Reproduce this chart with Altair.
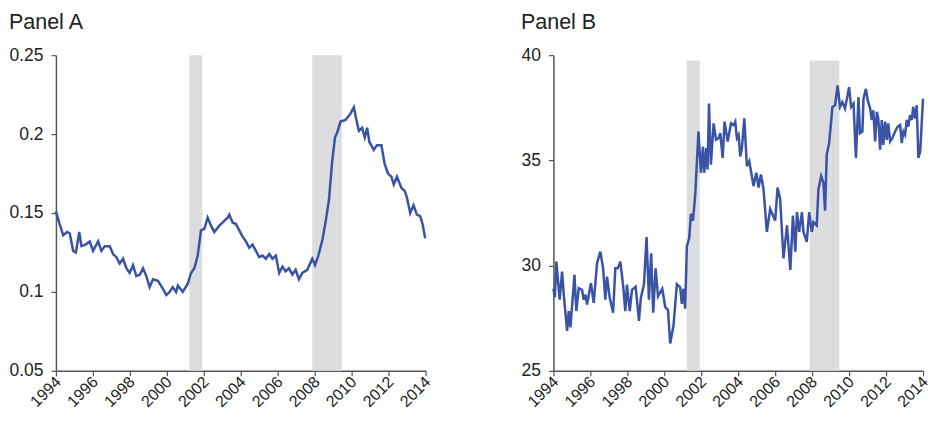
import altair as alt
import pandas as pd

# ---------------- data ----------------
years_a = [1994.0, 1994.2, 1994.39, 1994.61, 1994.75, 1994.93, 1995.08, 1995.26, 1995.38, 1995.6,
           1995.83, 1996.01, 1996.28, 1996.46, 1996.64, 1996.91, 1997.09, 1997.27, 1997.45, 1997.63,
           1997.81, 1997.99, 1998.17, 1998.35, 1998.55, 1998.71, 1998.89, 1999.07, 1999.25, 1999.52,
           1999.79, 1999.97, 2000.15, 2000.32, 2000.5, 2000.6, 2000.86, 2001.13, 2001.31, 2001.49,
           2001.67, 2001.85, 2002.03, 2002.21, 2002.39, 2002.57, 2002.84, 2003.11, 2003.29, 2003.38,
           2003.56, 2003.74, 2003.92, 2004.1, 2004.28, 2004.46, 2004.64, 2004.82, 2005.0, 2005.18,
           2005.36, 2005.54, 2005.72, 2005.9, 2006.08, 2006.26, 2006.43, 2006.61, 2006.79, 2006.97,
           2007.15, 2007.33, 2007.6, 2007.87, 2008.02, 2008.2, 2008.42, 2008.6, 2008.77, 2008.95,
           2009.1, 2009.22, 2009.4, 2009.67, 2009.81, 2009.94, 2010.12, 2010.24, 2010.39, 2010.57,
           2010.71, 2010.84, 2010.96, 2011.2, 2011.37, 2011.61, 2011.79, 2011.97, 2012.15, 2012.28,
           2012.45, 2012.69, 2012.87, 2012.99, 2013.17, 2013.35, 2013.53, 2013.71, 2013.84, 2013.98]
values_a = [0.151, 0.143, 0.136, 0.138, 0.137, 0.126, 0.125, 0.138, 0.129, 0.130,
            0.132, 0.126, 0.132, 0.126, 0.129, 0.129, 0.124, 0.122, 0.118, 0.121,
            0.115, 0.112, 0.117, 0.110, 0.111, 0.115, 0.110, 0.103, 0.108, 0.107,
            0.102, 0.098, 0.100, 0.103, 0.100, 0.104, 0.100, 0.105, 0.112, 0.115,
            0.123, 0.139, 0.140, 0.147, 0.142, 0.138, 0.142, 0.145, 0.147, 0.149,
            0.144, 0.143, 0.139, 0.135, 0.132, 0.128, 0.130, 0.126, 0.122, 0.123,
            0.121, 0.124, 0.121, 0.123, 0.112, 0.116, 0.113, 0.115, 0.111, 0.114,
            0.108, 0.112, 0.114, 0.121, 0.117, 0.123, 0.133, 0.145, 0.158, 0.183,
            0.198, 0.201, 0.208, 0.209, 0.211, 0.213, 0.217, 0.210, 0.202, 0.204,
            0.198, 0.204, 0.195, 0.190, 0.193, 0.193, 0.181, 0.175, 0.173, 0.168,
            0.173, 0.166, 0.164, 0.160, 0.150, 0.155, 0.149, 0.148, 0.143, 0.134]

years_b = [1994.0, 1994.08, 1994.16, 1994.34, 1994.47, 1994.56, 1994.74, 1994.83, 1994.92, 1995.14,
           1995.24, 1995.37, 1995.55, 1995.64, 1995.73, 1995.82, 1996.03, 1996.18, 1996.36, 1996.54,
           1996.69, 1996.81, 1996.9, 1997.05, 1997.23, 1997.35, 1997.48, 1997.62, 1997.77, 1997.89,
           1997.98, 1998.13, 1998.25, 1998.45, 1998.63, 1998.73, 1998.9, 1999.04, 1999.17, 1999.29,
           1999.4, 1999.53, 1999.66, 1999.89, 2000.05, 2000.2, 2000.32, 2000.5, 2000.68, 2000.86,
           2000.95, 2001.04, 2001.13, 2001.22, 2001.35, 2001.44, 2001.55, 2001.67, 2001.85, 2001.98,
           2002.09, 2002.16, 2002.27, 2002.34, 2002.42, 2002.52, 2002.67, 2002.8, 2002.94, 2003.03,
           2003.16, 2003.26, 2003.43, 2003.61, 2003.75, 2003.84, 2003.93, 2004.02, 2004.11, 2004.2,
           2004.33, 2004.47, 2004.6, 2004.69, 2004.83, 2004.98, 2005.1, 2005.23, 2005.37, 2005.55,
           2005.73, 2005.88, 2006.0, 2006.13, 2006.27, 2006.45, 2006.64, 2006.82, 2006.96, 2007.09,
           2007.18, 2007.3, 2007.45, 2007.53, 2007.71, 2007.84, 2007.98, 2008.07, 2008.25, 2008.34,
           2008.49, 2008.61, 2008.7, 2008.79, 2008.92, 2009.1, 2009.24, 2009.38, 2009.51, 2009.64,
           2009.78, 2010.0, 2010.11, 2010.24, 2010.37, 2010.51, 2010.59, 2010.72, 2010.78, 2010.91,
           2011.01, 2011.14, 2011.23, 2011.31, 2011.41, 2011.5, 2011.58, 2011.68, 2011.77, 2011.85,
           2011.95, 2012.04, 2012.12, 2012.22, 2012.34, 2012.49, 2012.63, 2012.76, 2012.85, 2012.94,
           2013.03, 2013.12, 2013.2, 2013.3, 2013.39, 2013.47, 2013.57, 2013.66, 2013.75, 2013.85,
           2014.0]
values_b = [28.9, 28.5, 30.19, 28.38, 29.72, 28.62, 26.9, 27.84, 27.06, 29.56,
            27.84, 28.93, 28.85, 28.38, 28.62, 28.15, 29.17, 28.23, 30.11, 30.66,
            29.87, 28.38, 29.48, 28.46, 27.76, 29.87, 29.87, 30.19, 29.09, 27.84,
            29.09, 27.84, 28.85, 29.0, 27.37, 28.46, 29.09, 31.36, 28.38, 30.58,
            27.76, 29.87, 28.54, 28.9, 28.03, 27.9, 26.3, 27.16, 29.12, 28.97,
            28.18, 28.9, 27.95, 30.92, 31.31, 32.46, 32.14, 33.31, 36.37, 34.41,
            35.66, 34.41, 35.59, 34.57, 37.7, 34.8, 36.76, 35.98, 36.06, 36.29,
            35.12, 36.84, 35.9, 36.76, 36.68, 36.84, 36.06, 36.21, 35.19, 35.59,
            37.0, 34.72, 34.96, 34.49, 33.78, 34.41, 33.71, 34.33, 33.63, 31.6,
            32.69, 32.38, 32.14, 33.71, 33.16, 30.34, 31.91, 29.79, 32.38, 30.66,
            32.54, 31.6, 32.54, 31.6, 31.13, 32.54, 31.6, 32.07, 31.91, 33.63,
            34.25, 33.94, 32.61, 35.27, 35.82, 37.54, 37.62, 38.56, 37.54, 37.77,
            37.46, 38.48, 37.54, 37.7, 35.12, 38.01, 36.29, 36.37, 37.93, 38.4,
            37.85, 37.46, 36.92, 37.38, 35.9, 37.31, 36.99, 35.51, 36.92, 35.74,
            36.84, 35.98, 36.76, 35.9, 36.06, 36.37, 36.6, 36.68, 35.82, 36.37,
            36.21, 36.92, 36.6, 37.15, 36.92, 37.54, 36.99, 37.62, 35.12, 35.43,
            37.93]

recession_start = [2001.22, 2007.87]
recession_end = [2001.92, 2009.47]

x_ticks = [1994, 1996, 1998, 2000, 2002, 2004, 2006, 2008, 2010, 2012, 2014]
y_ticks_a = [0.05, 0.1, 0.15, 0.2, 0.25]
y_ticks_b = [25, 30, 35, 40]
y_domain_a = [0.05, 0.25]
y_domain_b = [25, 40]
band_top_a = 0.25
band_top_b = 39.75

LINE = "#3a53a4"
BAND = "#dcdddf"
FONT = "Liberation Sans"
AXIS_STYLE = dict(labelFont=FONT, labelColor="#222222", labelOverlap=False,
                  domainColor="#555555", domainWidth=1.5, tickColor="#555555",
                  tickSize=5, tickWidth=1.2, grid=False, title=None)


def panel(title, years, values, ticks, domain, band_top):
    df = pd.DataFrame({"year": years, "value": values})
    bands = pd.DataFrame({"start": recession_start, "end": recession_end,
                          "lo": [domain[0]] * 2, "hi": [band_top] * 2})
    xscale = alt.Scale(domain=[1994, 2014], nice=False, zero=False)
    yscale = alt.Scale(domain=domain, nice=False, zero=False)
    xaxis = alt.Axis(values=x_ticks, format="d", labelAngle=-45, labelAlign="right",
                     labelBaseline="middle", labelPadding=3, labelOffset=2,
                     labelFontSize=16, **AXIS_STYLE)
    yaxis = alt.Axis(values=ticks, format="~g", labelPadding=8, labelFontSize=17.5,
                     **AXIS_STYLE)
    rect = alt.Chart(bands).mark_rect(color=BAND).encode(
        x=alt.X("start:Q", scale=xscale, axis=xaxis),
        x2="end:Q",
        y=alt.Y("lo:Q", scale=yscale, axis=yaxis),
        y2="hi:Q",
    )
    line = alt.Chart(df).mark_line(color=LINE, strokeWidth=2.5).encode(
        x=alt.X("year:Q", scale=xscale, axis=xaxis),
        y=alt.Y("value:Q", scale=yscale, axis=yaxis),
    )
    return alt.layer(rect, line).properties(
        width=370, height=316,
        title=alt.TitleParams(title, anchor="start", frame="bounds", fontSize=21.5,
                              font=FONT, fontWeight="normal", color="#222222", offset=13),
    )


a = panel("Panel A", years_a, values_a, y_ticks_a, y_domain_a, band_top_a)
b = panel("Panel B", years_b, values_b, y_ticks_b, y_domain_b, band_top_b)

chart = alt.hconcat(a, b, spacing=87).properties(
    background="white", padding={"left": 0, "top": 3, "right": 0, "bottom": 0}
).configure_view(stroke=None)

chart.save("out.html", embed_options={"renderer": "svg", "actions": False})
